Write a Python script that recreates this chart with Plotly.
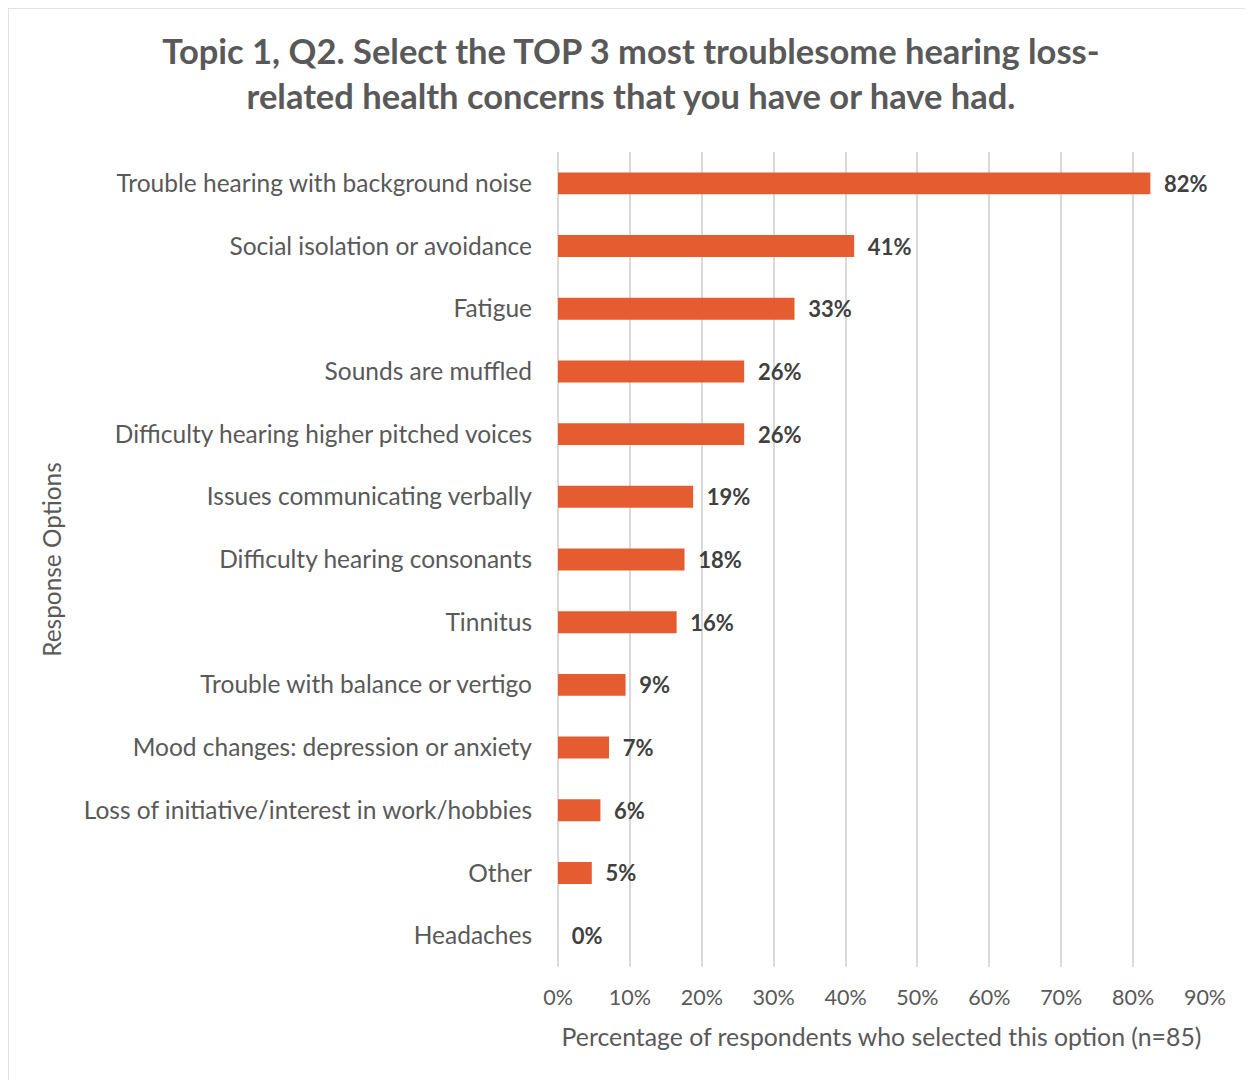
import plotly.graph_objects as go

# Values (percent of n=85)
options = [
    "Trouble hearing with background noise",
    "Social isolation or avoidance",
    "Fatigue",
    "Sounds are muffled",
    "Difficulty hearing higher pitched voices",
    "Issues communicating verbally",
    "Difficulty hearing consonants",
    "Tinnitus",
    "Trouble with balance or vertigo",
    "Mood changes: depression or anxiety",
    "Loss of initiative/interest in work/hobbies",
    "Other",
    "Headaches",
]
percent = [82.4, 41.2, 32.9, 25.9, 25.9, 18.8, 17.6, 16.5, 9.4, 7.1, 5.9, 4.7, 0.0]
x_ticks = [0, 10, 20, 30, 40, 50, 60, 70, 80, 90]
x_tick_labels = [f"{t}%" for t in x_ticks]

FONT = "Lato"
# the page puts the figure 8px in from the top-left corner
W, H = 1245, 1072
L, R, T, B = 550, 48, 144, 113


def px_x(p):
    return (p - L) / (W - L - R)


def px_y(p):
    return (H - B - p) / (H - T - B)


fig = go.Figure()

fig.add_trace(go.Bar(
    x=percent,
    y=options,
    orientation="h",
    width=0.35,
    marker=dict(color="#E55C31", line=dict(width=0)),
    text=[f"  {v:.0f}%" for v in percent],
    textposition="outside",
    constraintext="none",
    cliponaxis=False,
    textfont=dict(family=FONT, size=22, color="#404040", weight="bold"),
    hoverinfo="x+y",
))

fig.update_layout(
    width=W,
    height=H,
    margin=dict(l=L, r=R, t=T, b=B),
    paper_bgcolor="white",
    plot_bgcolor="white",
    showlegend=False,
    font=dict(family=FONT, color="#595959"),
    title=dict(
        text="Topic 1, Q2. Select the TOP 3 most troublesome hearing loss-<br>"
             "related health concerns that you have or have had.",
        font=dict(family=FONT, size=34.5, color="#595959", weight="bold"),
        x=(631 - 8) / W,
        xref="container",
        xanchor="center",
        y=1 - 56 / H,
        yref="container",
        yanchor="middle",
    ),
    xaxis=dict(
        range=[0, 90],
        tickvals=x_ticks,
        ticktext=x_tick_labels,
        showgrid=True,
        gridcolor="#D9D9D9",
        gridwidth=1.5,
        zeroline=True,
        zerolinecolor="#D9D9D9",
        zerolinewidth=1.5,
        showline=False,
        ticks="",
        ticklabelstandoff=15,
        tickfont=dict(family=FONT, size=21.5, color="#595959"),
        title=dict(
            text="Percentage of respondents who selected this option (n=85)",
            font=dict(family=FONT, size=24.8, color="#595959"),
            standoff=20,
        ),
        fixedrange=True,
    ),
    yaxis=dict(
        categoryorder="array",
        categoryarray=options[::-1],
        autorange=False,
        range=[-0.5, len(options) - 0.5],
        showgrid=False,
        zeroline=False,
        showline=False,
        ticks="",
        ticklabelstandoff=25,
        tickfont=dict(family=FONT, size=24.5, color="#595959"),
        title=dict(
            text="Response Options",
            font=dict(family=FONT, size=24.4, color="#595959"),
        ),
        fixedrange=True,
    ),
    bargap=0.65,
)

# outer chart border (top and left edges visible in the reference)
fig.add_shape(
    type="rect",
    xref="paper", yref="paper",
    x0=px_x(0), x1=px_x(W + 10),
    y0=px_y(H + 10), y1=px_y(0),
    line=dict(color="#D9D9D9", width=1.5),
    fillcolor="rgba(0,0,0,0)",
    layer="below",
)

fig.write_html("out.html")
